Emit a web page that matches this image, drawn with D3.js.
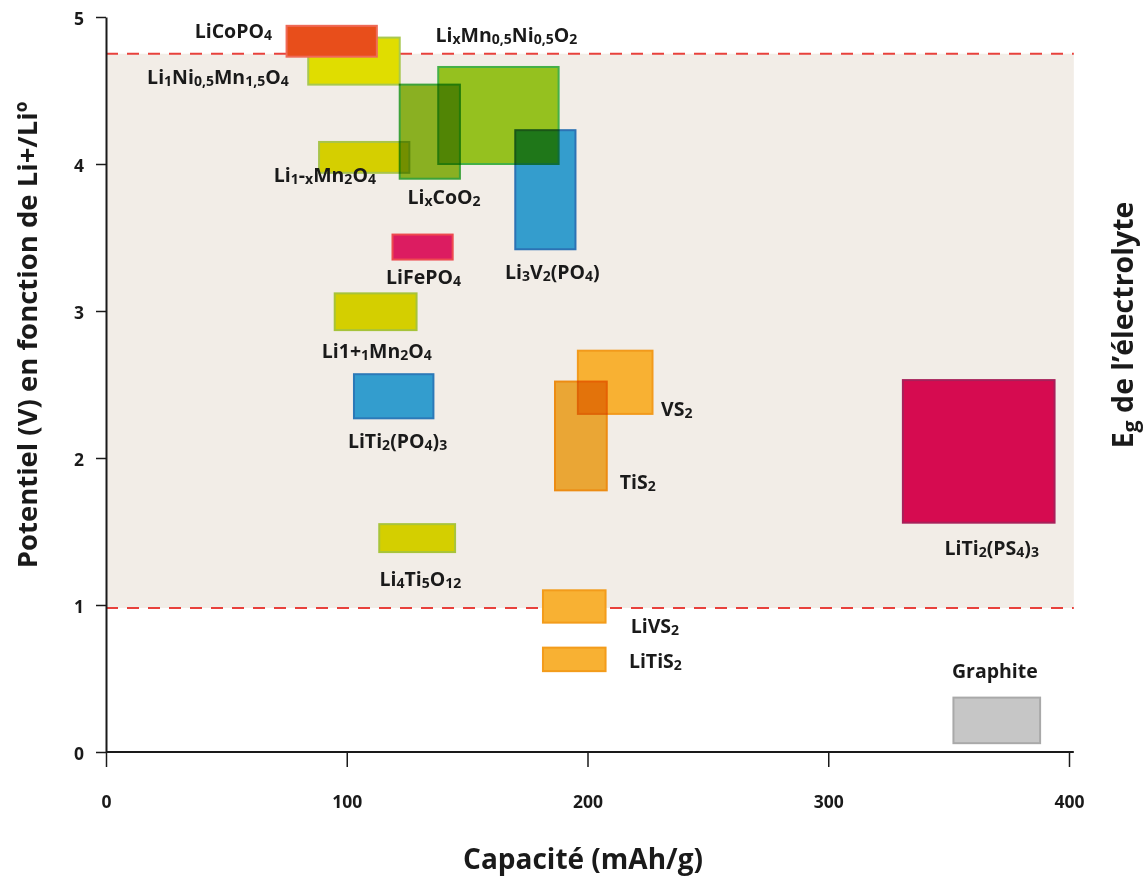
<!DOCTYPE html>
<html>
<head>
<meta charset="utf-8">
<script src="https://cdn.jsdelivr.net/npm/d3@7"></script>
<style>
  body { margin: 0; background: #fff; }
  svg { display: block; font-family: "Open Sans", sans-serif; font-weight: 700; }
  .axis text { font-size: 17.5px; fill: #1a1a1a; font-weight: 700; font-family: "Open Sans", sans-serif; }
  .axis line, .axis path { stroke: #1a1a1a; }
  .mat-label { font-size: 19.5px; fill: #1a1a1a; }
  .title { fill: #1a1a1a; }
</style>
</head>
<body>
<div id="chart"></div>
<script>
// Materials (draw order). Braces mark subscript parts.
var materials = [
  'Li{1}Ni{0,5}Mn{1,5}O{4}',
  'LiCoPO{4}',
  'Li{1}-{x}Mn{2}O{4}',
  'Li{x}CoO{2}',
  'Li{x}Mn{0,5}Ni{0,5}O{2}',
  'Li{3}V{2}(PO{4})',
  'LiFePO{4}',
  'Li1+{1}Mn{2}O{4}',
  'LiTi{2}(PO{4}){3}',
  'TiS{2}',
  'VS{2}',
  'LiTi{2}(PS{4}){3}',
  'Li{4}Ti{5}O{12}',
  'LiVS{2}',
  'LiTiS{2}',
  'Graphite'
];

// capacity range (mAh/g)
var capLow  = [84, 75, 88.5, 122, 138, 170, 119, 95, 103, 186.5, 196, 331, 113.5, 181.5, 181.5, 352];
var capHigh = [122, 112.5, 126, 147, 188, 195, 144, 129, 136, 208, 227, 394, 145, 207.5, 207.5, 388];

// potential range (V vs Li+/Li)
var potLow  = [4.54, 4.73, 3.94, 3.90, 4.00, 3.42, 3.35, 2.87, 2.27, 1.78, 2.30, 1.56, 1.36, 0.88, 0.55, 0.06];
var potHigh = [4.86, 4.94, 4.15, 4.54, 4.66, 4.23, 3.52, 3.12, 2.57, 2.52, 2.73, 2.53, 1.55, 1.10, 0.71, 0.37];

// label anchors (centre, baseline) in data units
var labelCap = [46.5, 52.9, 90.9, 140.4, 166.3, 185.4, 131.9, 112.5, 121.1, 220.9, 237.1, 367.9, 130.6, 228, 228.2, 369.2];
var labelPot = [4.544, 4.857, 3.878, 3.728, 4.833, 3.218, 3.184, 2.68, 2.068, 1.789, 2.286, 1.34, 1.129, 0.81, 0.571, 0.503];

var xTicks = [0, 100, 200, 300, 400];
var yTicks = [0, 1, 2, 3, 4, 5];

// electrolyte stability window (V) and extent of the band (mAh/g)
var windowLow = 0.98;
var windowHigh = 4.75;
var bandCapMax = 402;

// colours, same order as materials
var fills = ['#e0dd00', '#e84e1b', '#d5cf00', '#8ab022', '#95c11f', '#349dcd', '#dc1c61', '#d4cf00',
  '#339dce', '#eaa635', '#f8b133', '#d60b50', '#d4cf00', '#f8b133', '#f8b133', '#c6c6c6'];
var strokes = ['#a8c850', '#ef6a57', '#a8c44a', '#3da23a', '#45b048', '#2c72b4', '#ee4a50', '#a7c33a',
  '#2c79b8', '#ec8c14', '#f29a1c', '#a8205a', '#a8c43a', '#f39c1b', '#f39c1b', '#a9a9a9'];
var normalBlend = ['LiCoPO{4}'];

var data = materials.map(function(name, i) {
  return {
    name: name,
    c0: capLow[i], c1: capHigh[i],
    p0: potLow[i], p1: potHigh[i],
    lc: labelCap[i], lp: labelPot[i],
    fill: fills[i], stroke: strokes[i]
  };
});

var width = 1147, height = 877;

var x = d3.scaleLinear().domain([0, 400]).range([106, 1069]);
var y = d3.scaleLinear().domain([0, 5]).range([752, 17]);

var svg = d3.select('#chart')
  .append('svg')
  .attr('width', width)
  .attr('height', height);

// electrolyte band
svg.append('rect')
  .attr('x', x(0))
  .attr('y', y(windowHigh))
  .attr('width', x(bandCapMax) - x(0))
  .attr('height', y(windowLow) - y(windowHigh))
  .attr('fill', '#f2ede7');

svg.selectAll('line.limit')
  .data([windowLow, windowHigh])
  .enter()
  .append('line')
  .attr('class', 'limit')
  .attr('x1', x(0))
  .attr('x2', x(bandCapMax))
  .attr('y1', d => y(d))
  .attr('y2', d => y(d))
  .attr('stroke', '#e8413c')
  .attr('stroke-width', 2)
  .attr('stroke-dasharray', '12,9');

// axes
var yAxis = d3.axisLeft(y)
  .tickValues(yTicks)
  .tickFormat(d3.format('d'))
  .tickSize(10)
  .tickSizeOuter(0)
  .tickPadding(12);

var yg = svg.append('g')
  .attr('class', 'y axis')
  .attr('transform', 'translate(' + x(0) + ',0)')
  .call(yAxis);
yg.select('.domain').attr('stroke-width', 2);
yg.selectAll('.tick line').attr('stroke-width', 1.5);
yg.selectAll('.tick text').attr('dy', '0.45em');

var xAxis = d3.axisBottom(x)
  .tickValues(xTicks)
  .tickSize(15)
  .tickSizeOuter(0)
  .tickPadding(29);

var xg = svg.append('g')
  .attr('class', 'x axis')
  .attr('transform', 'translate(0,' + y(0) + ')')
  .call(xAxis);
xg.select('.domain').remove();
xg.append('line')
  .attr('x1', x(0))
  .attr('x2', x(bandCapMax))
  .attr('stroke', '#1a1a1a')
  .attr('stroke-width', 2);
xg.selectAll('.tick line').attr('stroke-width', 1.5);

// material boxes
var boxes = svg.append('g').style('isolation', 'isolate');

boxes.selectAll('rect')
  .data(data)
  .enter()
  .append('rect')
  .attr('x', d => x(d.c0))
  .attr('y', d => y(d.p1))
  .attr('width', d => x(d.c1) - x(d.c0))
  .attr('height', d => y(d.p0) - y(d.p1))
  .attr('fill', d => d.fill)
  .attr('stroke', d => d.stroke)
  .attr('stroke-width', 2)
  .style('mix-blend-mode', d => normalBlend.indexOf(d.name) >= 0 ? 'normal' : 'multiply');

// labels with subscripts
function addFormula(sel) {
  sel.each(function(d) {
    var t = d3.select(this);
    var parts = d.name.split(/(\{[^}]*\})/).filter(s => s.length);
    var sub = false;
    parts.forEach(function(p) {
      var isSub = p[0] === '{';
      var txt = isSub ? p.slice(1, -1) : p;
      var ts = t.append('tspan').text(txt);
      if (isSub) {
        ts.attr('font-size', '0.72em');
        if (!sub) ts.attr('dy', 2);
      } else if (sub) {
        ts.attr('dy', -2);
      }
      sub = isSub;
    });
  });
}

svg.append('g')
  .selectAll('text')
  .data(data)
  .enter()
  .append('text')
  .attr('class', 'mat-label')
  .attr('x', d => x(d.lc))
  .attr('y', d => y(d.lp))
  .attr('text-anchor', 'middle')
  .call(addFormula);

// titles
svg.append('text')
  .attr('class', 'title')
  .attr('x', 583)
  .attr('y', 869)
  .attr('text-anchor', 'middle')
  .attr('font-size', 28)
  .text('Capacité (mAh/g)');

svg.append('text')
  .attr('class', 'title')
  .attr('transform', 'translate(37,335) rotate(-90)')
  .attr('text-anchor', 'middle')
  .attr('font-size', 27.5)
  .text('Potentiel (V) en fonction de Li+/Liº');

var eg = svg.append('text')
  .attr('class', 'title')
  .attr('transform', 'translate(1133,325) rotate(-90)')
  .attr('text-anchor', 'middle')
  .attr('font-size', 28.5);
eg.append('tspan').text('E');
eg.append('tspan').attr('font-size', '0.75em').attr('dy', 5).text('g');
eg.append('tspan').attr('dy', -5).text(' de l’électrolyte');
</script>
</body>
</html>
